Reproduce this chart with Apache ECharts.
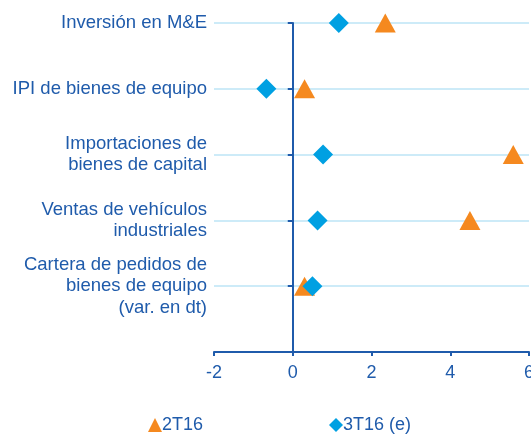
<!DOCTYPE html>
<html>
<head>
<meta charset="utf-8">
<script src="https://cdn.jsdelivr.net/npm/echarts@6/dist/echarts.min.js"></script>
<style>
  html, body { margin: 0; padding: 0; background: #fff; }
  #chart { width: 531px; height: 435px; }
</style>
</head>
<body>
<div id="chart"></div>
<script>
// categories, top to bottom
var categories = [
    'Inversión en M&E',
    'IPI de bienes de equipo',
    'Importaciones de\nbienes de capital',
    'Ventas de vehículos\nindustriales',
    'Cartera de pedidos de\nbienes de equipo\n(var. en dt)'
]
var seriesNames = ['2T16', '3T16 (e)']
var values2T16 = [2.35, 0.3, 5.6, 4.5, 0.3]
var values3T16 = [1.17, -0.67, 0.77, 0.63, 0.5]
var xTicks = [-2, 0, 2, 4, 6]

var dark = '#1f5bab'
var orange = '#f5891f'
var blue = '#00a0e2'

var gridLeft = 214, gridRight = 2
var chartWidth = 531

// row position: first category on top
function rowOf(i) {
    return categories.length - i
}
function toPoints(vals) {
    return vals.map(function (v, i) { return [v, rowOf(i)] })
}

// pixel distance from the left edge of the grid to x = 0
var xMin = xTicks[0], xMax = xTicks[xTicks.length - 1]
var zeroOffset = (0 - xMin) / (xMax - xMin) * (chartWidth - gridLeft - gridRight)

function legendAt(left, name, icon) {
    return {
        left: left,
        top: 411,
        itemWidth: 14,
        itemHeight: 14,
        textStyle: { color: dark, fontSize: 18, padding: [0, 0, 0, -5] },
        data: [{ name: name, icon: icon }]
    }
}

var chart = echarts.init(document.getElementById('chart'))
var option = {
    animation: false,
    textStyle: { fontFamily: 'Liberation Sans, Arial, sans-serif' },
    grid: {
        left: gridLeft, right: gridRight, top: 23, bottom: 83,
        containLabel: false, outerBoundsMode: 'none'
    },
    legend: [
        legendAt(143, seriesNames[0], 'triangle'),
        legendAt(324, seriesNames[1], 'diamond')
    ],
    xAxis: {
        type: 'value',
        min: xMin,
        max: xMax,
        interval: 2,
        axisLine: { onZero: false, lineStyle: { color: dark, width: 2 } },
        axisTick: { show: true, length: 4, lineStyle: { color: dark, width: 2 } },
        axisLabel: { color: dark, fontSize: 18, margin: 12 },
        splitLine: { show: false }
    },
    yAxis: [{
        // labels and grid lines
        type: 'value',
        min: 0,
        max: categories.length,
        interval: 1,
        position: 'left',
        axisLine: { show: false },
        axisTick: { show: false },
        axisLabel: {
            color: dark,
            fontSize: 18.5,
            lineHeight: 21.5,
            align: 'right',
            margin: 7,
            formatter: function (v) {
                var i = categories.length - v
                return (v > 0 && categories[i]) ? categories[i] : ''
            }
        },
        splitLine: { show: true, lineStyle: { color: '#cdebf8', width: 2 } }
    }, {
        // vertical line at zero with its ticks
        type: 'value',
        min: 0,
        max: categories.length,
        interval: 1,
        position: 'left',
        offset: -zeroOffset,
        axisLine: { show: true, onZero: false, lineStyle: { color: dark, width: 2 } },
        axisTick: { show: true, length: 5, lineStyle: { color: dark, width: 2 } },
        axisLabel: { show: false },
        splitLine: { show: false }
    }],
    series: [{
        name: seriesNames[0],
        type: 'scatter',
        symbol: 'triangle',
        symbolSize: [21, 19],
        itemStyle: { color: orange, opacity: 1 },
        data: toPoints(values2T16)
    }, {
        name: seriesNames[1],
        type: 'scatter',
        symbol: 'diamond',
        symbolSize: [20, 20],
        itemStyle: { color: blue, opacity: 1 },
        data: toPoints(values3T16)
    }]
}
chart.setOption(option)
</script>
</body>
</html>
